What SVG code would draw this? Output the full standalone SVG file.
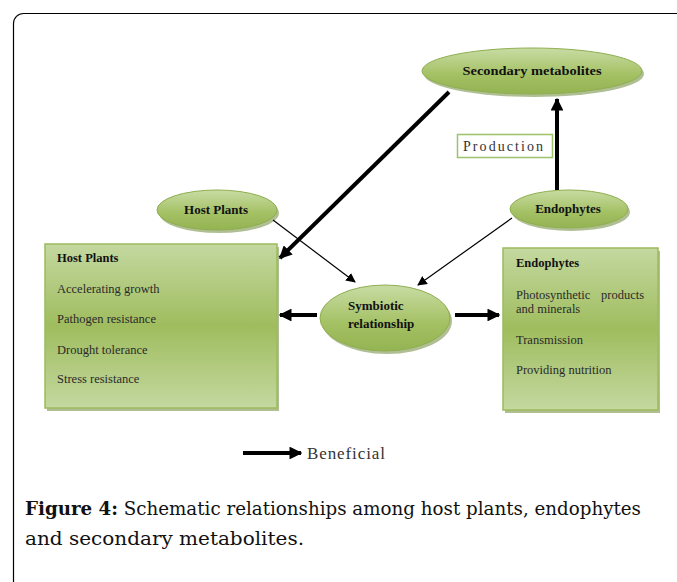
<svg xmlns="http://www.w3.org/2000/svg" width="677" height="582" viewBox="0 0 677 582">
<defs>
<linearGradient id="gBox" x1="0" y1="0" x2="0" y2="1">
<stop offset="0" stop-color="#c4d8a0"/>
<stop offset="0.5" stop-color="#9fbd5e"/>
<stop offset="1" stop-color="#c4d8a0"/>
</linearGradient>
<linearGradient id="gEll" x1="0" y1="0" x2="0" y2="1">
<stop offset="0" stop-color="#c8dca4"/>
<stop offset="0.6" stop-color="#a3c062"/>
<stop offset="1" stop-color="#94b352"/>
</linearGradient>
<marker id="ahThick" viewBox="0 0 10 10" refX="9" refY="5" markerWidth="3.2" markerHeight="3.2" orient="auto" markerUnits="strokeWidth">
<path d="M0,0 L10,5 L0,10 Z" fill="#000"/>
</marker>
<marker id="ahThin" viewBox="0 0 10 10" refX="9" refY="5" markerWidth="8" markerHeight="8" orient="auto" markerUnits="strokeWidth">
<path d="M0,0 L10,5 L0,10 Z" fill="#000"/>
</marker>
<style>
.ell{fill:url(#gEll);stroke:#8fae50;stroke-width:1}
.shadow{fill:#6f8a3a;opacity:0.55}
.box{fill:url(#gBox);stroke:#9cbb5c;stroke-width:1.5}
.lbl{font-family:"Liberation Serif",serif;font-weight:bold;font-size:13px;fill:#111;text-anchor:middle}
.bt{font-family:"Liberation Serif",serif;font-size:12.5px;fill:#2a2a2a}
.bth{font-family:"Liberation Serif",serif;font-size:12.5px;font-weight:bold;fill:#111}
.thick{stroke:#000;stroke-width:4;fill:none}
.thin{stroke:#000;stroke-width:1.2;fill:none}
.cap{font-family:"DejaVu Serif",serif;font-size:18px;fill:#111}
</style>
</defs>
<rect x="0" y="0" width="677" height="582" fill="#fff"/>
<rect x="13.5" y="13.5" width="700" height="600" rx="10" ry="10" fill="none" stroke="#000" stroke-width="1.2"/>

<g id="host-box">
<rect x="47" y="247" width="232" height="164" class="shadow"/>
<rect x="45" y="244" width="232" height="164" class="box"/>
<text x="57" y="262" class="bth">Host Plants</text>
<text x="57" y="293" class="bt">Accelerating growth</text>
<text x="57" y="323" class="bt">Pathogen resistance</text>
<text x="57" y="354" class="bt">Drought tolerance</text>
<text x="57" y="383" class="bt">Stress resistance</text>
</g>

<g id="endo-box">
<rect x="505" y="251" width="155" height="162" class="shadow"/>
<rect x="503" y="248" width="155" height="162" class="box"/>
<text x="516" y="267" class="bth">Endophytes</text>
<text x="516" y="299" class="bt">Photosynthetic<tspan x="601">products</tspan></text>
<text x="516" y="313" class="bt">and minerals</text>
<text x="516" y="344" class="bt">Transmission</text>
<text x="516" y="374" class="bt">Providing nutrition</text>
</g>

<g id="secondary">
<ellipse cx="534" cy="74" rx="110" ry="23" class="shadow"/>
<ellipse cx="532" cy="71" rx="110" ry="23" class="ell"/>
<text x="532" y="75" class="lbl" font-size="14" textLength="139" lengthAdjust="spacingAndGlyphs">Secondary metabolites</text>
</g>

<g id="host-ell">
<ellipse cx="219" cy="213" rx="60" ry="20" class="shadow"/>
<ellipse cx="217" cy="210" rx="60" ry="20" class="ell"/>
<text x="216" y="214" class="lbl">Host Plants</text>
</g>

<g id="endo-ell">
<ellipse cx="571" cy="212" rx="59" ry="19" class="shadow"/>
<ellipse cx="569" cy="209" rx="59" ry="19" class="ell"/>
<text x="568" y="213" class="lbl">Endophytes</text>
</g>

<g id="symbiotic">
<ellipse cx="387" cy="321" rx="65" ry="33" class="shadow"/>
<ellipse cx="385" cy="318" rx="65" ry="33" class="ell"/>
<text x="348" y="310" class="lbl" text-anchor="start" style="text-anchor:start">Symbiotic</text>
<text x="348" y="328" class="lbl" style="text-anchor:start">relationship</text>
</g>

<g id="production">
<rect x="457.5" y="134.5" width="95" height="23" fill="#fff" stroke="#9cc36a" stroke-width="1.5"/>
<text x="463" y="151" font-family="Liberation Serif, serif" font-size="14" fill="#333" textLength="80" lengthAdjust="spacing">Production</text>
</g>

<g id="connectors">
<line x1="449" y1="92" x2="280" y2="258" class="thick" marker-end="url(#ahThick)"/>
<line x1="557" y1="190" x2="557" y2="99" class="thick" marker-end="url(#ahThick)"/>
<line x1="273" y1="220" x2="355" y2="282" class="thin" marker-end="url(#ahThin)"/>
<line x1="512" y1="218" x2="418" y2="285" class="thin" marker-end="url(#ahThin)"/>
<line x1="317" y1="315" x2="280" y2="315" class="thick" marker-end="url(#ahThick)"/>
<line x1="455" y1="315" x2="499" y2="315" class="thick" marker-end="url(#ahThick)"/>
</g>

<g id="legend">
<line x1="243" y1="453" x2="301" y2="453" class="thick" marker-end="url(#ahThick)"/>
<text x="307" y="459" font-family="Liberation Serif, serif" font-size="17" fill="#333" textLength="78" lengthAdjust="spacing">Beneficial</text>
</g>

<g id="caption">
<text x="25" y="515" class="cap" textLength="616" lengthAdjust="spacingAndGlyphs"><tspan font-weight="bold">Figure 4:</tspan> Schematic relationships among host plants, endophytes</text>
<text x="25" y="545" class="cap" textLength="279" lengthAdjust="spacingAndGlyphs">and secondary metabolites.</text>
</g>
</svg>
